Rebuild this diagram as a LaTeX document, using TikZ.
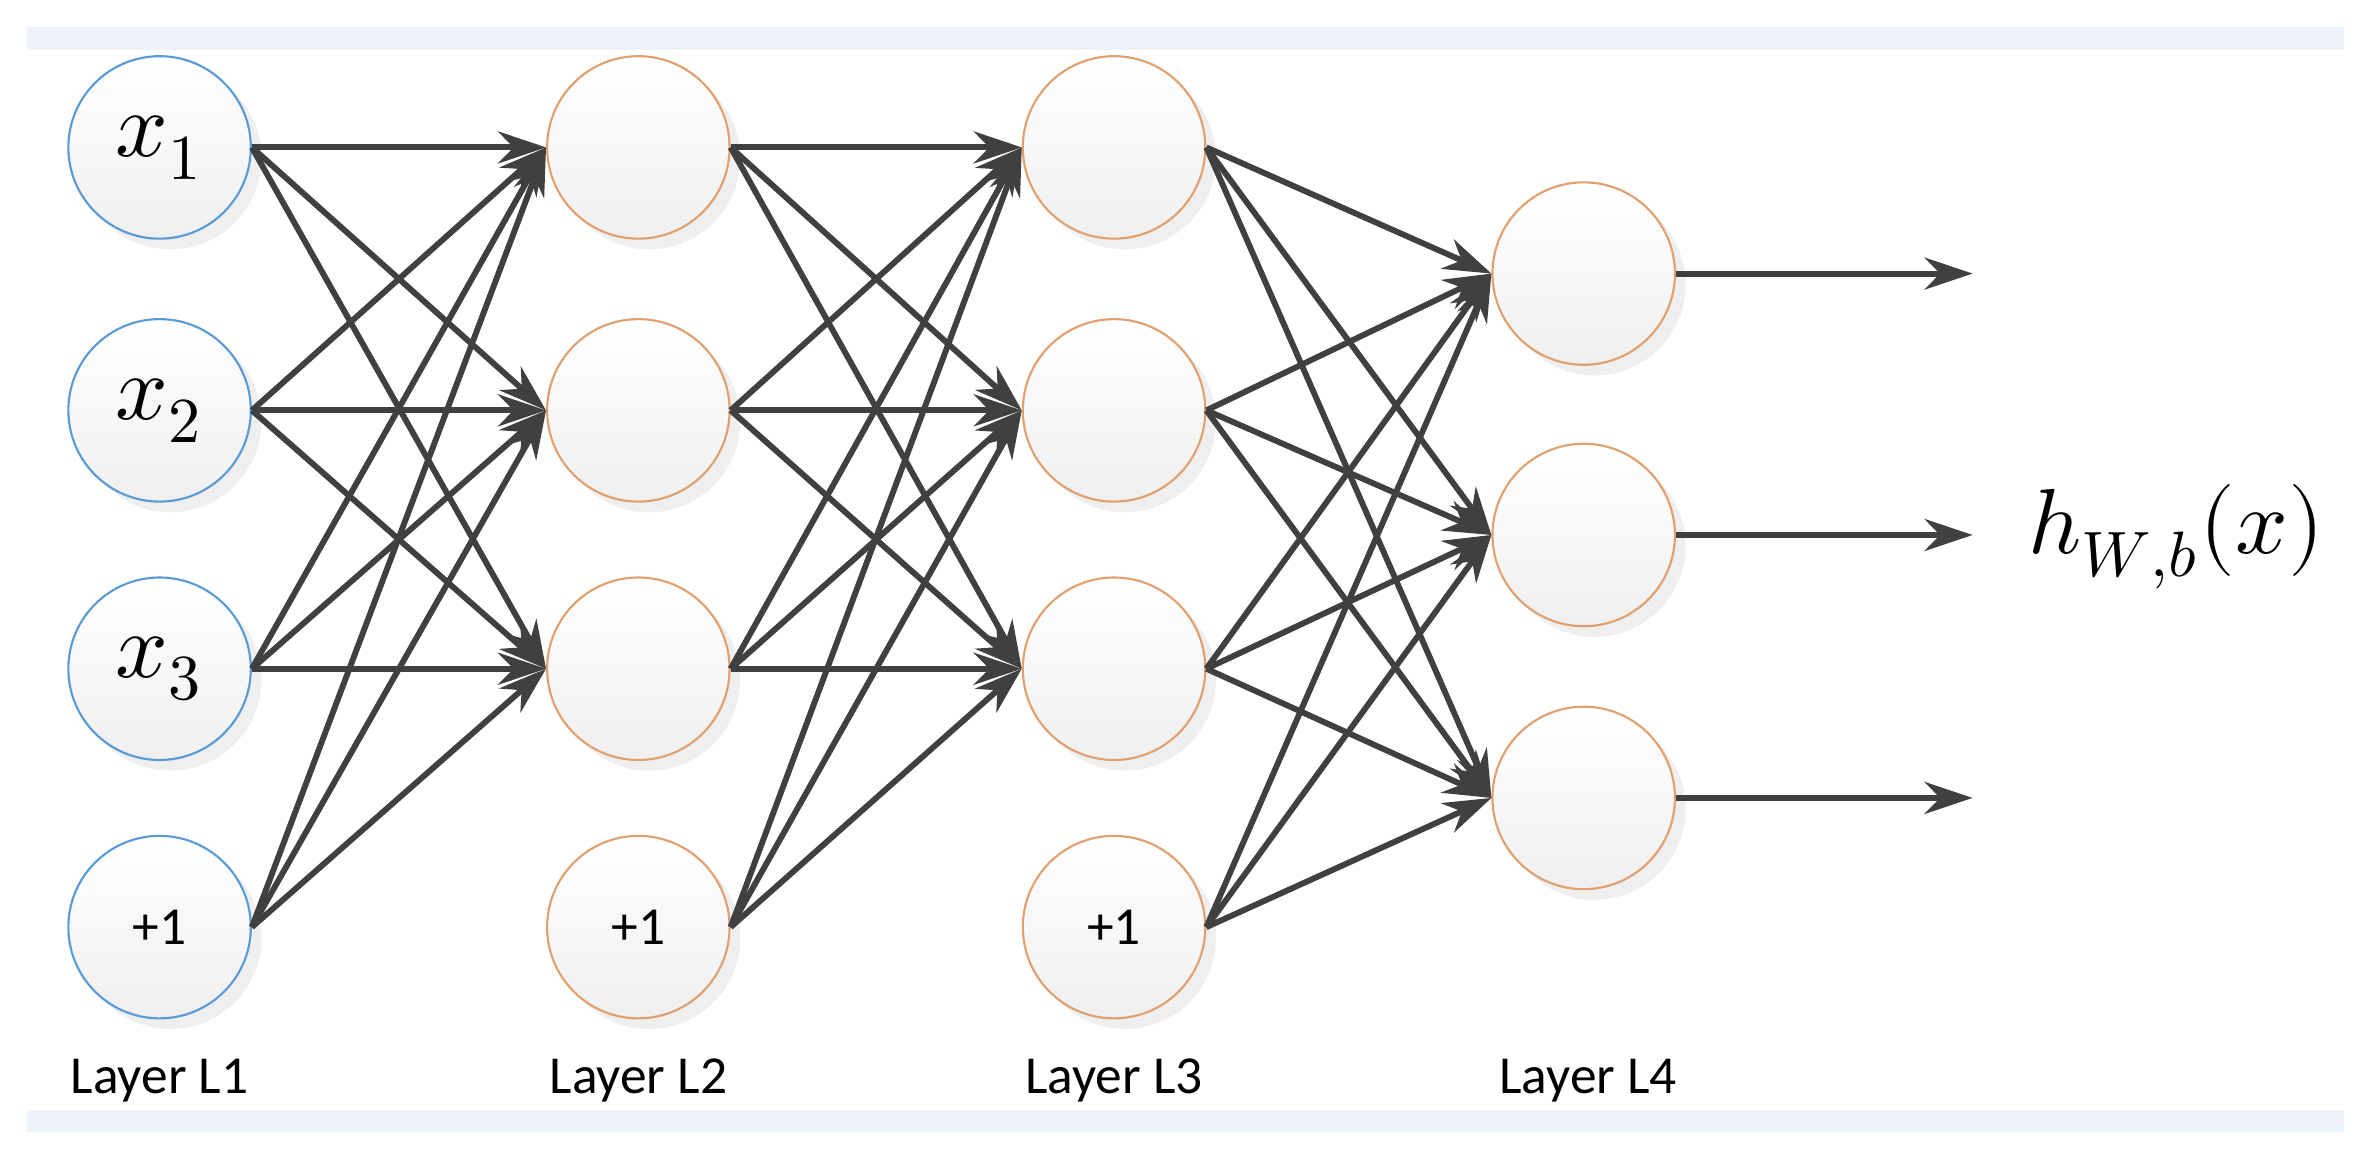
\documentclass[tikz,border=0pt]{standalone}
\usepackage{fontspec}
\setmainfont{Carlito}
\usepackage{unicode-math}
\setmathfont{Latin Modern Math}
\usetikzlibrary{arrows.meta,shadows}
\definecolor{bandblue}{HTML}{EEF3F9}
\definecolor{inblue}{HTML}{5B9BD5}
\definecolor{hidorange}{HTML}{E0A070}
\definecolor{edgegray}{HTML}{404040}

\begin{document}
\begin{tikzpicture}[x=0.01cm,y=0.01cm]
	\tikzstyle{neuron}=[circle, minimum size=1.2cm, inner sep=0pt, top color=white, bottom color=gray!12, drop shadow={shadow xshift=2pt, shadow yshift=-2pt, fill=gray!25}, font=\LARGE]
	\tikzstyle{input}=[neuron, draw=inblue, thin]
	\tikzstyle{hidden}=[neuron, draw=hidorange, thin]
	\tikzstyle{conn}=[draw=edgegray, line width=1.1pt, -{Stealth[length=9pt,width=6pt]}]
	\tikzstyle{layer}=[font=\normalsize]
	
	\useasboundingbox (0,0) rectangle (1560,763);
	\fill[bandblue] (18,730) rectangle (1542,745);
	\fill[bandblue] (18,18) rectangle (1542,33);
	
	% layer L1
	\node[input] (a1) at (105,666) {$x_1$};
	\node[input] (a2) at (105,493) {$x_2$};
	\node[input] (a3) at (105,323) {$x_3$};
	\node[input,font=\normalsize] (a4) at (105,153) {+1};
	% layer L2
	\node[hidden] (b1) at (420,666) {};
	\node[hidden] (b2) at (420,493) {};
	\node[hidden] (b3) at (420,323) {};
	\node[hidden,font=\normalsize] (b4) at (420,153) {+1};
	% layer L3
	\node[hidden] (c1) at (733,666) {};
	\node[hidden] (c2) at (733,493) {};
	\node[hidden] (c3) at (733,323) {};
	\node[hidden,font=\normalsize] (c4) at (733,153) {+1};
	% layer L4
	\node[hidden] (d1) at (1042,583) {};
	\node[hidden] (d2) at (1042,411) {};
	\node[hidden] (d3) at (1042,238) {};
	
	\foreach \s in {1,...,4}
	\foreach \t in {1,2,3}{
		\draw[conn] (a\s.east) -- (b\t.west);
		\draw[conn] (b\s.east) -- (c\t.west);
		\draw[conn] (c\s.east) -- (d\t.west);
	}
	
	\foreach \t in {1,2,3}{
		\coordinate (o\t) at ([xshift=1.95cm]d\t.east);
		\draw[conn] (d\t.east) -- (o\t);
	}
	
	\node[font=\LARGE] (h) at (1432,410) {$h_{W,b}(x)$};
	
	\node[layer] (l1) at (105,52) {Layer L1};
	\node[layer] (l2) at (420,52) {Layer L2};
	\node[layer] (l3) at (733,52) {Layer L3};
	\node[layer] (l4) at (1045,52) {Layer L4};
\end{tikzpicture}
\end{document}
